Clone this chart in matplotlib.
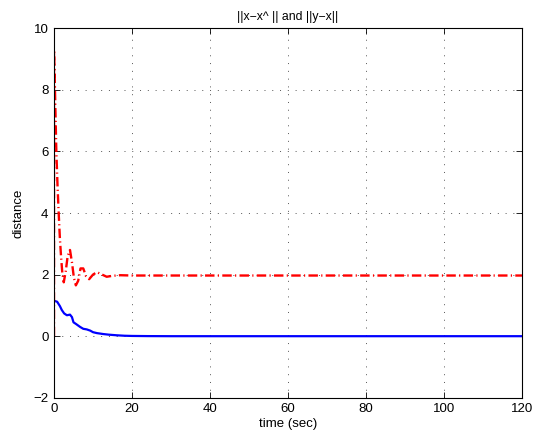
import matplotlib
matplotlib.use("Agg")
import matplotlib.pyplot as plt

plt.rcParams['font.family'] = ['Liberation Sans', 'DejaVu Sans']

# estimation error ||x - x^||
t_est = [0, 0.8, 1.5, 2.0, 2.6, 3.3, 4.1, 4.6, 5.0, 5.6, 6.7, 7.5, 8.4, 9.3, 10.0,
         11.0, 12.6, 14.0, 16.0, 18.0, 20.0, 24.0, 30.0, 120.0]
err_est = [1.15, 1.12, 0.98, 0.85, 0.74, 0.68, 0.70, 0.62, 0.45, 0.40, 0.30, 0.24,
           0.22, 0.18, 0.13, 0.10, 0.07, 0.05, 0.03, 0.015, 0.008, 0.003, 0.0, 0.0]

# tracking distance ||y - x||
t_trk = [0, 0, 0.15, 0.35, 0.6, 0.9, 1.2, 1.5, 1.8, 2.1, 2.5, 3.0, 3.5, 4.1, 4.6,
         5.1, 5.6, 6.2, 6.8, 7.5, 8.2, 9.0, 10.0, 11.0, 12.0, 13.5, 15.0, 17.0,
         20.0, 120.0]
dist_trk = [0.0, 9.3, 8.6, 7.4, 6.0, 4.9, 4.0, 3.2, 2.6, 2.1, 1.75, 2.1, 2.6, 2.8,
            2.4, 1.9, 1.65, 1.8, 2.2, 2.2, 1.95, 1.85, 2.0, 2.08, 2.02, 1.93, 1.96,
            1.98, 1.97, 1.97]

fig = plt.figure(figsize=(5.4, 4.41), dpi=100)
ax = fig.add_axes([0.1, 0.098, 0.867, 0.838])

ax.plot(t_est, err_est, color='#0000ff', lw=1.6, solid_joinstyle='round')
ax.plot(t_trk, dist_trk, color='#ff0000', lw=1.7, linestyle=(0, (4, 1.4, 0.5, 1.4)))

ax.set_xlim(0, 120)
ax.set_ylim(-2, 10)
ax.set_xticks([0, 20, 40, 60, 80, 100, 120])
ax.set_yticks([-2, 0, 2, 4, 6, 8, 10])
ax.set_yticklabels(['\u22122', '0', '2', '4', '6', '8', '10'])
ax.grid(True, linestyle=(0, (1, 7)), color='#555555', linewidth=0.7)
ax.tick_params(direction='in', length=4, width=0.6, top=True, right=True,
               labelsize=9.5, pad=4)
for s in ax.spines.values():
    s.set_linewidth(0.8)

ax.set_title('||x\u2212x^ || and ||y\u2212x||', fontsize=8.8, pad=6)
ax.set_xlabel('time (sec)', fontsize=9.5, labelpad=2)
ax.set_ylabel('distance', fontsize=9.5, labelpad=6)

fig.savefig('out.png', dpi=100)
